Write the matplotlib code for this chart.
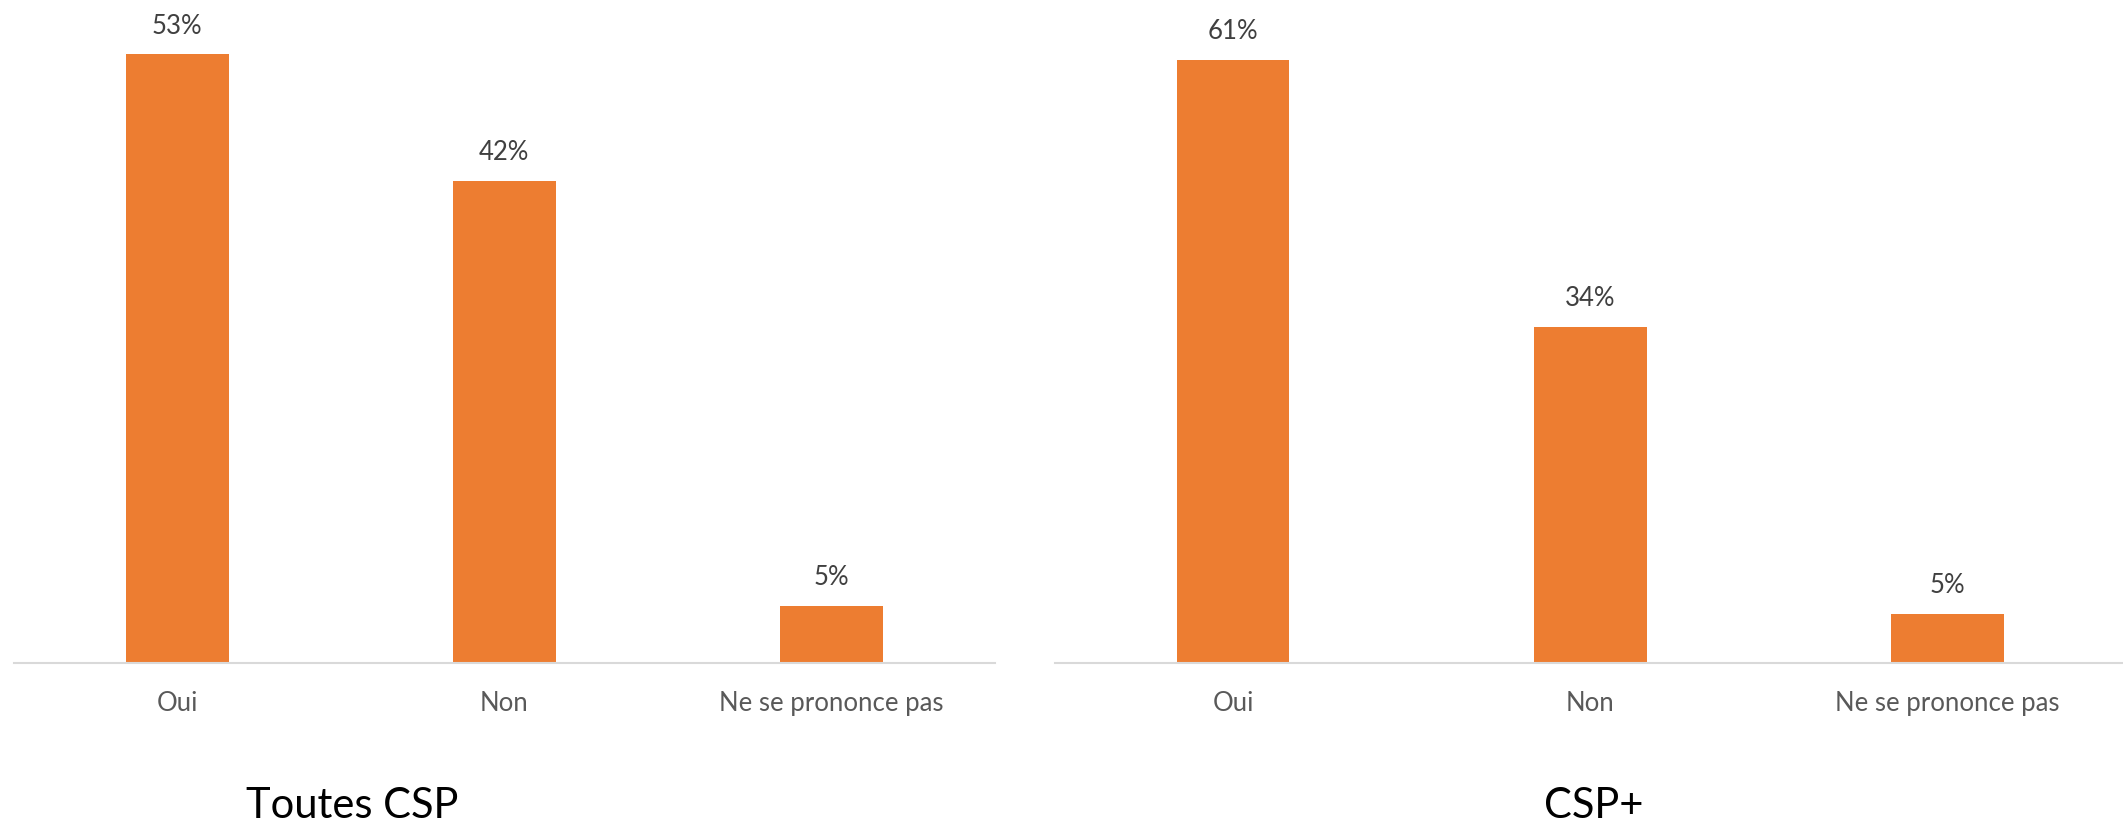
import matplotlib
matplotlib.use("Agg")
import matplotlib.pyplot as plt

categories = ["Oui", "Non", "Ne se prononce pas"]
toutes_csp = [53, 42, 5]
csp_plus = [61, 34, 5]
panel_titles = ["Toutes CSP", "CSP+"]

W, H = 2123, 832
fig = plt.figure(figsize=(W / 100, H / 100), dpi=100)
plt.rcParams['font.family'] = ['Lato', 'DejaVu Sans']

BAR = "#ED7D31"
AXC = "#D9D9D9"

def make_ax(x0, x1, ymax, values):
    top, base = 20, 663
    ax = fig.add_axes([x0 / W, 1 - base / H, (x1 - x0) / W, (base - top) / H])
    xs = range(len(categories))
    bars = ax.bar(xs, values, width=0.315, color=BAR, zorder=2)
    ax.set_xlim(-0.5, len(categories) - 0.5)
    ax.set_ylim(0, ymax)
    for s in ["top", "right", "left"]:
        ax.spines[s].set_visible(False)
    ax.spines["bottom"].set_color(AXC)
    ax.spines["bottom"].set_linewidth(1.5)
    ax.set_yticks([])
    ax.set_xticks(list(xs))
    ax.set_xticklabels(categories, fontsize=18.5, color="#595959")
    ax.tick_params(axis="x", length=0, pad=20)
    for b, v in zip(bars, values):
        ax.annotate(f"{v}%", (b.get_x() + b.get_width() / 2, v),
                    xytext=(0, 20), textcoords="offset points",
                    ha="center", va="center", fontsize=18.5, color="#404040")
    return ax

make_ax(13.5, 995, 56.0, toutes_csp)
make_ax(1054.5, 2126, 65.0, csp_plus)

fig.text(352 / W, 1 - 806 / H, panel_titles[0], ha="center", va="center",
         fontsize=30, color="black")
fig.text(1594 / W, 1 - 806 / H, panel_titles[1], ha="center", va="center",
         fontsize=30, color="black")

fig.savefig("out.png", dpi=100, facecolor="white")
